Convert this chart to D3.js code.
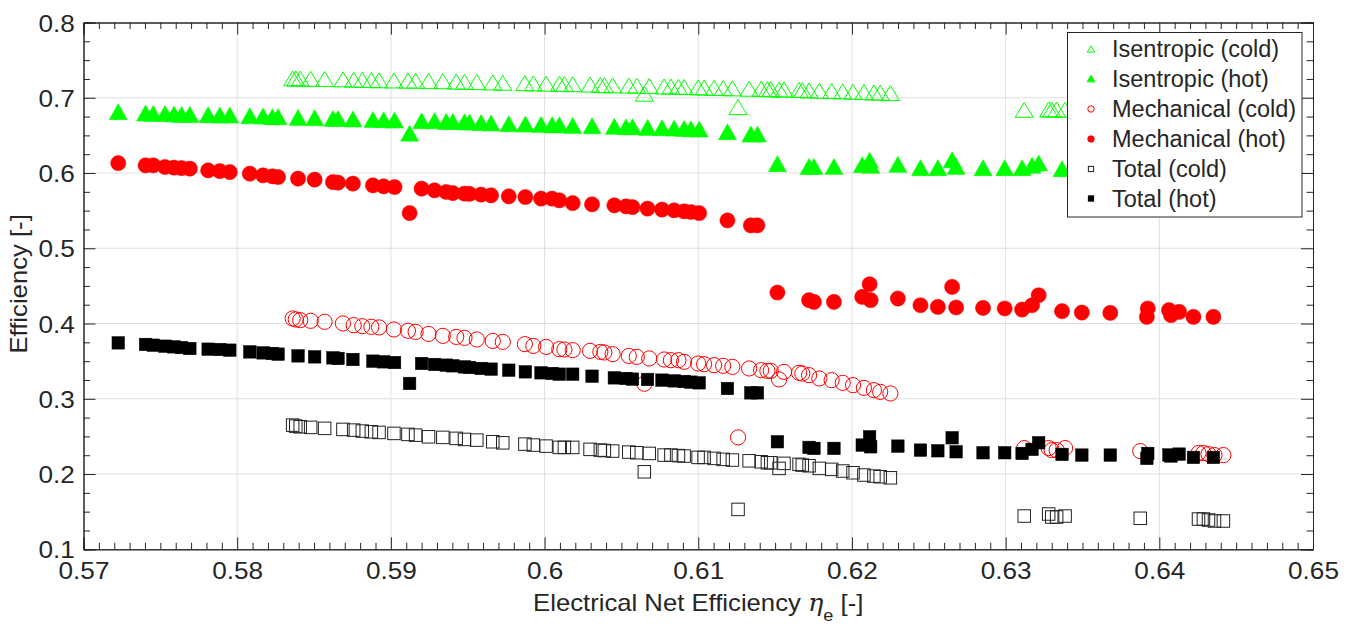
<!DOCTYPE html>
<html>
<head>
<meta charset="utf-8">
<script src="https://cdn.jsdelivr.net/npm/d3@7"></script>
<style>
  body { margin: 0; background: #ffffff; }
  svg text { font-family: "Liberation Sans", Arial, Helvetica, sans-serif; fill: #262626; }
</style>
</head>
<body>
<svg id="chart" width="1355" height="627"></svg>
<script>
// ---- Operating points: hot-side measurements -------------------------------
const hotX = [
  0.57226, 0.57404, 0.57454, 0.5753, 0.57588, 0.57638, 0.57692, 0.57811, 0.57887, 0.57952,
  0.58082, 0.58168, 0.58229, 0.58266, 0.58396, 0.58504, 0.58623, 0.58656, 0.58753, 0.58883,
  0.58953, 0.59024, 0.59122, 0.592, 0.59284, 0.5936, 0.59403, 0.59479, 0.59511, 0.59587,
  0.59652, 0.59767, 0.59875, 0.59977, 0.60049, 0.60096, 0.60183, 0.60309, 0.60454, 0.6053,
  0.60572, 0.6067, 0.60764, 0.60843, 0.60908, 0.60952, 0.61006, 0.6119, 0.61342, 0.61385,
  0.61515, 0.61721, 0.61753, 0.61883, 0.62067, 0.62115, 0.62122, 0.62299, 0.62446, 0.62559,
  0.62652, 0.62678, 0.62853, 0.62994, 0.63107, 0.63172, 0.63215, 0.63367, 0.63496, 0.63681,
  0.63919, 0.63925, 0.64063, 0.64076, 0.64129, 0.64222, 0.64352
];
const isentropicHot = [
  0.6815, 0.6796, 0.6792, 0.679, 0.6783, 0.6779, 0.6779, 0.6775, 0.677, 0.677,
  0.6761, 0.6757, 0.6748, 0.6748, 0.6739, 0.6735, 0.6726, 0.6726, 0.6717, 0.6712,
  0.6708, 0.6703, 0.653, 0.6695, 0.6695, 0.6686, 0.6686, 0.6682, 0.6677, 0.6672,
  0.6663, 0.6655, 0.665, 0.6646, 0.6641, 0.6641, 0.6633, 0.6628, 0.662, 0.6615,
  0.6615, 0.6606, 0.6602, 0.6597, 0.6593, 0.6589, 0.6584, 0.6549, 0.6517, 0.6517,
  0.6124, 0.6088, 0.6088, 0.6088, 0.6111, 0.6168, 0.6102, 0.6115, 0.6071, 0.6071,
  0.6177, 0.6088, 0.6071, 0.6071, 0.6071, 0.6102, 0.6132, 0.6058, 0.6052, 0.6049,
  0.6042, 0.6068, 0.6058, 0.6041, 0.6053, 0.6035, 0.6033
];
const mechanicalHot = [
  0.6132, 0.6102, 0.6102, 0.608, 0.6071, 0.6066, 0.6058, 0.6035, 0.6026, 0.6013,
  0.5991, 0.5969, 0.5956, 0.5947, 0.5925, 0.5912, 0.588, 0.5872, 0.5859, 0.5836,
  0.5823, 0.5814, 0.5468, 0.5792, 0.577, 0.5748, 0.5734, 0.5726, 0.5722, 0.5713,
  0.5704, 0.569, 0.5681, 0.566, 0.566, 0.5637, 0.5601, 0.5584, 0.5571, 0.5557,
  0.5548, 0.5527, 0.5514, 0.5504, 0.5491, 0.5482, 0.5468, 0.537, 0.5305, 0.5305,
  0.4412, 0.431, 0.4287, 0.4287, 0.4353, 0.4522, 0.431, 0.4332, 0.4243, 0.422,
  0.4486, 0.4213, 0.4207, 0.42, 0.4186, 0.4243, 0.4376, 0.4164, 0.4146, 0.4141,
  0.4088, 0.42, 0.4177, 0.4111, 0.4154, 0.4088, 0.4088
];
const totalHot = [
  0.3743, 0.3722, 0.3712, 0.3699, 0.369, 0.3681, 0.3668, 0.3659, 0.3655, 0.3646,
  0.3623, 0.361, 0.3602, 0.3593, 0.357, 0.3557, 0.3544, 0.3536, 0.3522, 0.35,
  0.3491, 0.3482, 0.3204, 0.3469, 0.3456, 0.3447, 0.3438, 0.3424, 0.3416, 0.3403,
  0.3394, 0.338, 0.3358, 0.3345, 0.3336, 0.3327, 0.3327, 0.33, 0.3278, 0.327,
  0.3261, 0.3257, 0.3248, 0.3238, 0.323, 0.3221, 0.3212, 0.3137, 0.3079, 0.3079,
  0.2429, 0.2354, 0.2341, 0.2341, 0.2385, 0.2495, 0.2362, 0.2371, 0.2318, 0.2309,
  0.2482, 0.2296, 0.2283, 0.2283, 0.2274, 0.2328, 0.2416, 0.2261, 0.2252, 0.2252,
  0.2208, 0.2274, 0.2254, 0.224, 0.2265, 0.2221, 0.2221
];

// ---- Operating points: cold-side measurements ------------------------------
const coldX = [
  0.58361, 0.58381, 0.5841, 0.58478, 0.58569, 0.58688, 0.58758, 0.58814, 0.58873, 0.58923,
  0.5902, 0.59111, 0.59161, 0.59245, 0.59338, 0.59425, 0.59479, 0.59559, 0.59663, 0.59728,
  0.59872, 0.59927, 0.6001, 0.60096, 0.60129, 0.60183, 0.60296, 0.60363, 0.60389, 0.60443,
  0.60548, 0.606, 0.60649, 0.60681, 0.60778, 0.60822, 0.60871, 0.60908, 0.60999, 0.61038,
  0.61103, 0.61162, 0.61222, 0.61259, 0.61331, 0.61409, 0.6145, 0.61472, 0.61526, 0.61558,
  0.61656, 0.61677, 0.61721, 0.61788, 0.61868, 0.6194, 0.62007, 0.62078, 0.62143, 0.62184,
  0.6225,
  0.63121, 0.6328, 0.633, 0.63332, 0.63387, 0.63876, 0.64255, 0.64287, 0.6432, 0.64359,
  0.64417
];
const isentropicCold = [
  0.7257, 0.7257, 0.7255, 0.7252, 0.725, 0.7245, 0.724, 0.7238, 0.7235, 0.7232,
  0.723, 0.7228, 0.7226, 0.7224, 0.722, 0.7215, 0.7212, 0.7208, 0.7204, 0.72,
  0.7195, 0.719, 0.7188, 0.7184, 0.7182, 0.718, 0.7175, 0.717, 0.7168, 0.7165,
  0.7162, 0.716, 0.7054, 0.7155, 0.715, 0.7148, 0.7145, 0.7143, 0.7138, 0.7135,
  0.713, 0.7128, 0.7125, 0.6876, 0.712, 0.7118, 0.7115, 0.7113, 0.7108, 0.711,
  0.7105, 0.7102, 0.7098, 0.7094, 0.709, 0.7085, 0.708, 0.7075, 0.707, 0.7068,
  0.7062,
  0.684, 0.6845, 0.6843, 0.6843, 0.6842, 0.684, 0.683, 0.683, 0.6828, 0.6827,
  0.6826
];
const mechanicalCold = [
  0.4067, 0.4054, 0.4045, 0.4036, 0.4023, 0.4001, 0.3978, 0.3965, 0.3956, 0.3948,
  0.3921, 0.3903, 0.3889, 0.3862, 0.3836, 0.3822, 0.3809, 0.3788, 0.3769, 0.3756,
  0.3726, 0.3703, 0.369, 0.3659, 0.3655, 0.3646, 0.3637, 0.3623, 0.3615, 0.3593,
  0.357, 0.3557, 0.320, 0.3536, 0.3522, 0.3513, 0.3513, 0.3491, 0.3469, 0.346,
  0.3447, 0.3438, 0.3424, 0.2487, 0.3403, 0.338, 0.3371, 0.3371, 0.3257, 0.3358,
  0.3345, 0.3336, 0.3314, 0.327, 0.3248, 0.3212, 0.3181, 0.3145, 0.3115, 0.3092,
  0.3071,
  0.2345, 0.2345, 0.2318, 0.2318, 0.2345, 0.2305, 0.2279, 0.2279, 0.2265, 0.2252,
  0.2252
];
const totalCold = [
  0.265, 0.2637, 0.2628, 0.262, 0.2607, 0.2593, 0.2584, 0.2571, 0.2561, 0.2553,
  0.254, 0.2527, 0.2517, 0.2495, 0.2487, 0.2474, 0.246, 0.2451, 0.2429, 0.2415,
  0.2398, 0.2385, 0.2371, 0.2354, 0.2354, 0.2354, 0.2328, 0.2318, 0.2312, 0.2305,
  0.2292, 0.2283, 0.203, 0.2274, 0.2252, 0.2252, 0.2245, 0.2239, 0.2221, 0.2221,
  0.2208, 0.2195, 0.2186, 0.153, 0.2176, 0.2163, 0.215, 0.215, 0.2075, 0.2142,
  0.2129, 0.2119, 0.211, 0.2075, 0.2062, 0.204, 0.2017, 0.1987, 0.1973, 0.1964,
  0.195,
  0.1442, 0.1469, 0.1429, 0.1429, 0.1442, 0.1412, 0.1402, 0.1402, 0.1389, 0.1376,
  0.1376
];

// ---- Axis ticks and labels --------------------------------------------------
const xTicks = [0.57, 0.58, 0.59, 0.60, 0.61, 0.62, 0.63, 0.64, 0.65];
const yTicks = [0.1, 0.2, 0.3, 0.4, 0.5, 0.6, 0.7, 0.8];
const seriesNames = [
  "Isentropic (cold)", "Isentropic (hot)",
  "Mechanical (cold)", "Mechanical (hot)",
  "Total (cold)", "Total (hot)"
];

// ---- Layout ----------------------------------------------------------------
const W = 1355, H = 627;
const plot = { left: 83.5, right: 1313, top: 22.5, bottom: 549.3 };
const axisColor = "#262626";
const gridColor = "#dfdfdf";
const stretch = 1.07;   // slightly wide lettering of the figure text

const svg = d3.select("#chart");
svg.append("rect").attr("width", W).attr("height", H).attr("fill", "#ffffff");

const x = d3.scaleLinear().domain([0.57, 0.65]).range([plot.left, plot.right]);
const y = d3.scaleLinear().domain([0.1, 0.8]).range([plot.bottom, plot.top]);

const fmt = v => String(+v.toFixed(2));

// minor tick positions
const xMinor = d3.range(0, 81).map(i => 0.57 + i * 0.001).filter(v => Math.abs(v * 100 - Math.round(v * 100)) > 1e-6);
const yMinor = d3.range(0, 29).map(i => 0.1 + i * 0.025).filter(v => Math.abs(v * 10 - Math.round(v * 10)) > 1e-6);

// ---- Grid ------------------------------------------------------------------
const grid = svg.append("g");
grid.selectAll("line.gx").data(xTicks.slice(1, -1)).join("line")
  .attr("x1", d => x(d)).attr("x2", d => x(d))
  .attr("y1", plot.top).attr("y2", plot.bottom)
  .attr("stroke", gridColor).attr("stroke-width", 1);
grid.selectAll("line.gy").data(yTicks.slice(1, -1)).join("line")
  .attr("y1", d => y(d)).attr("y2", d => y(d))
  .attr("x1", plot.left).attr("x2", plot.right)
  .attr("stroke", gridColor).attr("stroke-width", 1);

// ---- Markers ---------------------------------------------------------------
const triPath = (w, h) => `M0,${-h / 2}L${w / 2},${h / 2}L${-w / 2},${h / 2}Z`;

const series = [
  { name: seriesNames[0], xs: coldX, ys: isentropicCold, shape: "tri", fill: "none", stroke: "#00ff00", w: 18, h: 15 },
  { name: seriesNames[1], xs: hotX, ys: isentropicHot, shape: "tri", fill: "#00ff00", stroke: "#00ff00", w: 18, h: 16 },
  { name: seriesNames[2], xs: coldX, ys: mechanicalCold, shape: "circle", fill: "none", stroke: "#ff0000", r: 7.6 },
  { name: seriesNames[3], xs: hotX, ys: mechanicalHot, shape: "circle", fill: "#ff0000", stroke: "#ff0000", r: 7.6 },
  { name: seriesNames[4], xs: coldX, ys: totalCold, shape: "square", fill: "none", stroke: "#222222", s: 12.5 },
  { name: seriesNames[5], xs: hotX, ys: totalHot, shape: "square", fill: "#000000", stroke: "#000000", s: 12.5 }
];

svg.append("clipPath").attr("id", "plotClip").append("rect")
  .attr("x", plot.left).attr("y", plot.top)
  .attr("width", plot.right - plot.left).attr("height", plot.bottom - plot.top);

const marks = svg.append("g").attr("clip-path", "url(#plotClip)");

function drawShape(g, s, cx, cy, scale) {
  const k = scale || 1;
  if (s.shape === "tri") {
    return g.append("path").attr("d", triPath(s.w * k, s.h * k))
      .attr("transform", `translate(${cx},${cy})`);
  } else if (s.shape === "circle") {
    return g.append("circle").attr("cx", cx).attr("cy", cy).attr("r", s.r * k);
  } else {
    const a = s.s * k;
    return g.append("rect").attr("x", cx - a / 2).attr("y", cy - a / 2).attr("width", a).attr("height", a);
  }
}

series.forEach(s => {
  const g = marks.append("g")
    .attr("fill", s.fill).attr("stroke", s.stroke).attr("stroke-width", s.fill === "none" ? 1 : 0.5);
  const pts = s.xs.map((v, i) => [v, s.ys[i]]);
  pts.forEach(p => drawShape(g, s, x(p[0]), y(p[1])));
});

// ---- Axes (box with inward ticks) ------------------------------------------
const majorLen = 12, minorLen = 6.5;
const axes = svg.append("g");

const bottomAxis = axes.append("g").attr("transform", `translate(0,${plot.bottom})`)
  .call(d3.axisBottom(x).tickValues(xTicks).tickFormat(fmt).tickSize(-majorLen).tickPadding(13));
axes.append("g").attr("transform", `translate(0,${plot.bottom})`)
  .call(d3.axisBottom(x).tickValues(xMinor).tickFormat("").tickSize(-minorLen));
axes.append("g").attr("transform", `translate(0,${plot.top})`)
  .call(d3.axisTop(x).tickValues(xTicks).tickFormat("").tickSize(-majorLen));
axes.append("g").attr("transform", `translate(0,${plot.top})`)
  .call(d3.axisTop(x).tickValues(xMinor).tickFormat("").tickSize(-minorLen));

const leftAxis = axes.append("g").attr("transform", `translate(${plot.left},0)`)
  .call(d3.axisLeft(y).tickValues(yTicks).tickFormat(fmt).tickSize(-majorLen).tickPadding(8));
axes.append("g").attr("transform", `translate(${plot.left},0)`)
  .call(d3.axisLeft(y).tickValues(yMinor).tickFormat("").tickSize(-minorLen));
axes.append("g").attr("transform", `translate(${plot.right},0)`)
  .call(d3.axisRight(y).tickValues(yTicks).tickFormat("").tickSize(-majorLen));
axes.append("g").attr("transform", `translate(${plot.right},0)`)
  .call(d3.axisRight(y).tickValues(yMinor).tickFormat("").tickSize(-minorLen));

axes.selectAll(".domain").attr("stroke", axisColor).attr("stroke-width", 1);
axes.selectAll(".tick line").attr("stroke", axisColor).attr("stroke-width", 1);
axes.selectAll(".tick text")
  .attr("fill", axisColor)
  .style("font-family", '"Liberation Sans", Arial, sans-serif')
  .style("font-size", "24px")
  .attr("transform", `scale(${stretch + 0.02},1)`);
bottomAxis.selectAll(".tick text").attr("dy", "0.71em");
leftAxis.selectAll(".tick text").attr("dy", "0.36em");

// ---- Axis titles -----------------------------------------------------------
const xTitle = svg.append("text")
  .attr("transform", `translate(${(plot.left + plot.right) / 2},611) scale(${stretch},1)`)
  .attr("text-anchor", "middle")
  .style("font-size", "24px");
xTitle.append("tspan").text("Electrical Net Efficiency ");
xTitle.append("tspan").attr("font-style", "italic").attr("font-family", '"DejaVu Serif", "Liberation Serif", serif').text("η");
xTitle.append("tspan").attr("dy", 10).style("font-size", "17px").text("e");
xTitle.append("tspan").attr("dy", -10).text(" [-]");

svg.append("text")
  .attr("transform", `translate(27,${(plot.top + plot.bottom) / 2 - 2}) rotate(-90) scale(${stretch},1)`)
  .attr("text-anchor", "middle")
  .style("font-size", "24px")
  .text("Efficiency [-]");

// ---- Legend ----------------------------------------------------------------
const legend = svg.append("g");
legend.append("rect")
  .attr("x", 1067.5).attr("y", 32.5).attr("width", 234.5).attr("height", 184.5)
  .attr("fill", "#ffffff").attr("stroke", axisColor).attr("stroke-width", 1);

const rowY = [49, 78.5, 109, 139, 169, 198.5];
series.forEach((s, i) => {
  const g = legend.append("g")
    .attr("fill", s.fill).attr("stroke", s.stroke).attr("stroke-width", 1);
  drawShape(g, s, 1091, rowY[i], 0.42);
  legend.append("text")
    .attr("x", 1112).attr("y", rowY[i]).attr("dy", "0.36em")
    .style("font-size", "23.5px")
    .text(s.name);
});
</script>
</body>
</html>
